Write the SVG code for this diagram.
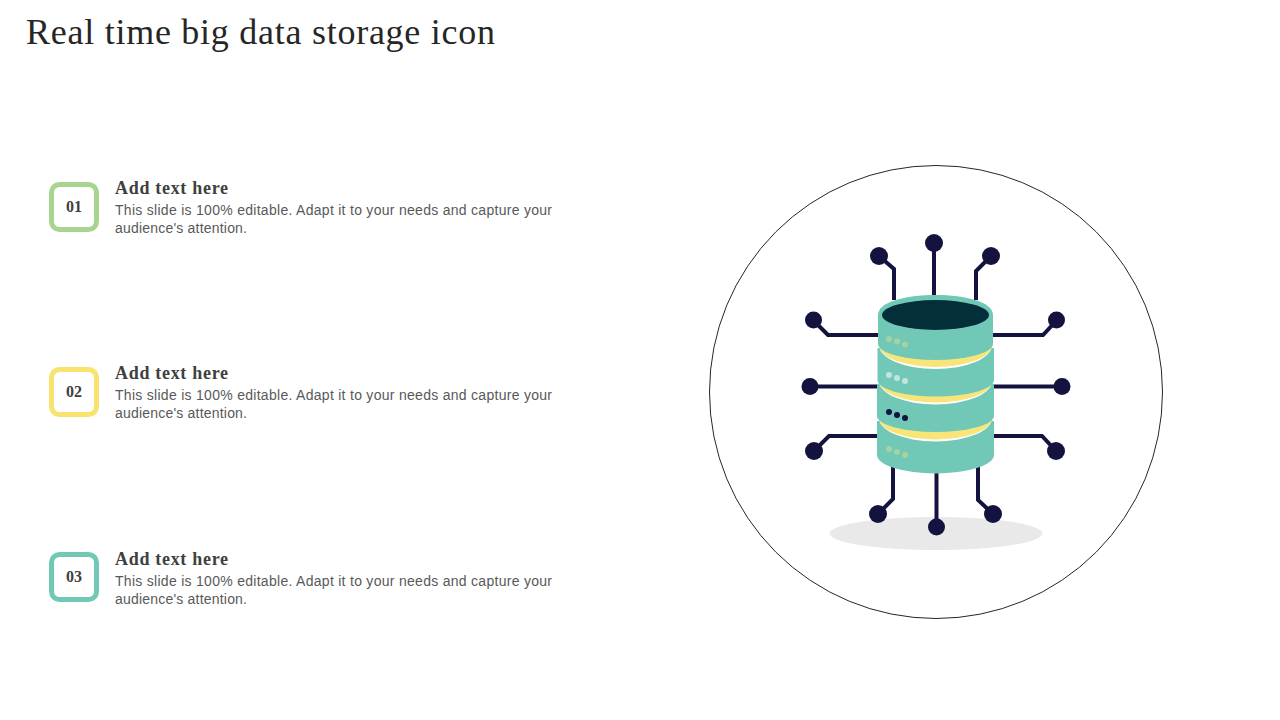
<svg xmlns="http://www.w3.org/2000/svg" width="1280" height="720" viewBox="0 0 1280 720">
<style>
.title{font-family:"Liberation Serif",serif;font-size:36px;fill:#262626}
.head{font-family:"Liberation Serif",serif;font-size:18px;font-weight:bold;fill:#404040}
.body{font-family:"Liberation Sans",Arial,sans-serif;font-size:14px;fill:#595959}
.num{font-family:"Liberation Serif",serif;font-size:16px;font-weight:bold;fill:#404040;text-anchor:middle}
.badge{fill:#fff;stroke-width:5}
.wire{fill:none;stroke:#14123f;stroke-width:4}
.pin{fill:#14123f}
.seg{fill:#72c8b6}
.dotg{fill:#a3d3a0}
.dotw{fill:#c5e4dc}
.dotn{fill:#14123f}
.band{fill:#f7e57a}
.gap{fill:#fff}
</style>
<rect width="1280" height="720" fill="#fff"/>
<text class="title" x="26" y="44" textLength="469" lengthAdjust="spacing">Real time big data storage icon</text>

<g id="item-1">
<rect class="badge" x="51.500" y="184.500" width="45" height="45" rx="8" stroke="#a8d48f"/>
<text class="num" x="74" y="212">01</text>
<text class="head" x="115" y="194" textLength="113">Add text here</text>
<text class="body" x="115" y="215" textLength="437">This slide is 100% editable. Adapt it to your needs and capture your</text>
<text class="body" x="115" y="233" textLength="132">audience's attention.</text>
</g>
<g id="item-2">
<rect class="badge" x="51.500" y="369.500" width="45" height="45" rx="8" stroke="#f8e36f"/>
<text class="num" x="74" y="397">02</text>
<text class="head" x="115" y="379" textLength="113">Add text here</text>
<text class="body" x="115" y="400" textLength="437">This slide is 100% editable. Adapt it to your needs and capture your</text>
<text class="body" x="115" y="418" textLength="132">audience's attention.</text>
</g>
<g id="item-3">
<rect class="badge" x="51.500" y="554.500" width="45" height="45" rx="8" stroke="#72c8b6"/>
<text class="num" x="74" y="582">03</text>
<text class="head" x="115" y="565" textLength="113">Add text here</text>
<text class="body" x="115" y="586" textLength="437">This slide is 100% editable. Adapt it to your needs and capture your</text>
<text class="body" x="115" y="604" textLength="132">audience's attention.</text>
</g>

<g id="icon">
<circle cx="936" cy="392" r="226.500" fill="#fff" stroke="#262626" stroke-width="1"/>
<ellipse cx="936" cy="533.500" rx="106.500" ry="16.500" fill="#e9e9e9"/>
</g>

<g id="connectors">
<path class="wire" d="M894 300V269L879 256"/>
<path class="wire" d="M934 300V243"/>
<path class="wire" d="M976 300V271L991 256"/>
<path class="wire" d="M880 335H828L813 320"/>
<path class="wire" d="M990 335H1043L1057 320"/>
<path class="wire" d="M880 386.500H810" stroke-width="4.500"/>
<path class="wire" d="M990 386.500H1062" stroke-width="4.500"/>
<path class="wire" d="M880 436H829L814 451"/>
<path class="wire" d="M990 436H1042L1056 451"/>
<path class="wire" d="M893 465V499L878 514"/>
<path class="wire" d="M936.500 465V527" stroke-width="4.500"/>
<path class="wire" d="M978 465V500L993 514"/>
</g>

<g id="pins">
<circle class="pin" cx="879" cy="256" r="9"/>
<circle class="pin" cx="934" cy="243" r="9"/>
<circle class="pin" cx="991" cy="256" r="9"/>
<circle class="pin" cx="813.500" cy="320" r="8.500"/>
<circle class="pin" cx="1056.500" cy="320" r="8.500"/>
<circle class="pin" cx="810" cy="386.500" r="8.500"/>
<circle class="pin" cx="1062" cy="386.500" r="8.500"/>
<circle class="pin" cx="814" cy="451" r="9"/>
<circle class="pin" cx="1056" cy="451" r="9"/>
<circle class="pin" cx="878" cy="514" r="9"/>
<circle class="pin" cx="936.500" cy="527" r="8.500"/>
<circle class="pin" cx="993" cy="514" r="9"/>
</g>

<g id="cylinder">
<path class="seg" d="M877 421V455A58.500 18.500 0 0 0 994 455V421Z"/>
<path class="gap" d="M879 418A56.500 23.500 0 0 0 992 418Z"/>
<path class="band" d="M879 418A56.500 21.500 0 0 0 992 418Z"/>
<path class="seg" d="M877 384V416A58.500 16 0 0 0 994 416V384Z"/>
<path class="gap" d="M879 381A56.500 23.500 0 0 0 992 381Z"/>
<path class="band" d="M879 381A56.500 21.500 0 0 0 992 381Z"/>
<path class="seg" d="M877.500 348V380A58.250 16.500 0 0 0 994 380V348Z"/>
<path class="gap" d="M879 345A56.500 24 0 0 0 992 345Z"/>
<path class="band" d="M879 345A56.500 22 0 0 0 992 345Z"/>
<path class="seg" d="M878 315C878 302 905 295 935.500 295C966 295 993 302 993 315V344A57.500 16 0 0 1 878 344Z"/>
<ellipse cx="935.500" cy="315" rx="53.500" ry="15" fill="#042f3a"/>
<circle class="dotg" cx="889" cy="339" r="3"/><circle class="dotg" cx="897" cy="341.500" r="3"/><circle class="dotg" cx="905" cy="344.500" r="3"/>
<circle class="dotw" cx="889" cy="375" r="3"/><circle class="dotw" cx="897" cy="378" r="3"/><circle class="dotw" cx="905" cy="381" r="3"/>
<circle class="dotn" cx="889" cy="412" r="3"/><circle class="dotn" cx="897" cy="415" r="3"/><circle class="dotn" cx="905" cy="418" r="3"/>
<circle class="dotg" cx="889" cy="449" r="3"/><circle class="dotg" cx="897" cy="452" r="3"/><circle class="dotg" cx="905" cy="455" r="3"/>
</g>
</svg>
